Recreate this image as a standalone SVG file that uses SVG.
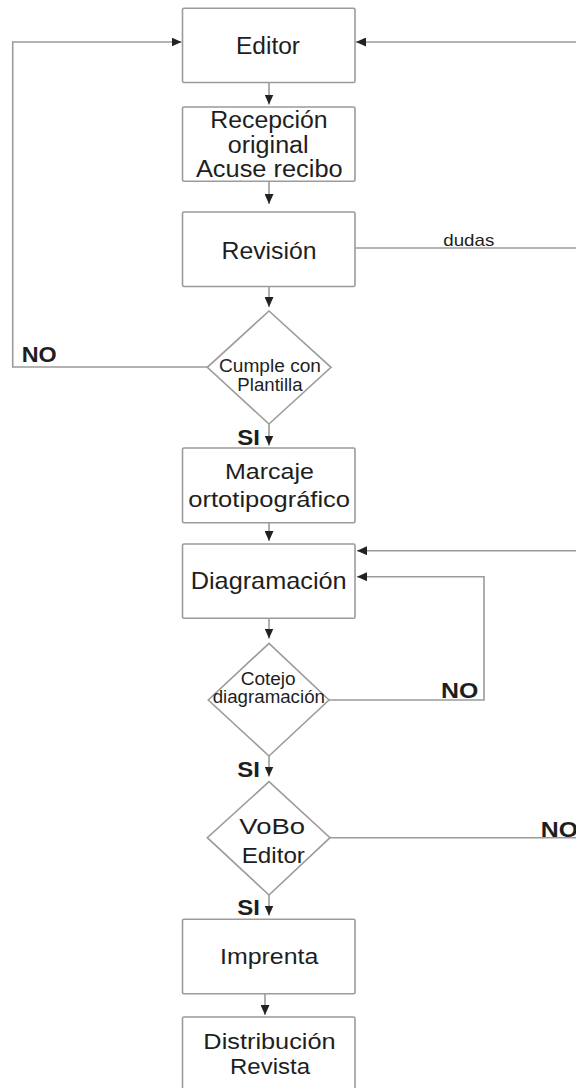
<svg xmlns="http://www.w3.org/2000/svg" width="576" height="1088" viewBox="0 0 576 1088">
<style>
  .box { fill: #ffffff; stroke: #9b9b9b; stroke-width: 1.6; }
  .dia { fill: #ffffff; stroke: #9b9b9b; stroke-width: 1.6; }
  .ln { fill: none; stroke: #9b9b9b; stroke-width: 1.6; }
  .arr { marker-end: url(#ah); }
  text { font-family: "Liberation Sans", Arial, sans-serif; fill: #1e1e1e; }
  .c { text-anchor: middle; }
  .b { font-weight: bold; }
</style>
<defs>
  <marker id="ah" markerUnits="userSpaceOnUse" markerWidth="10" markerHeight="9" refX="10" refY="4.5" orient="auto">
    <path d="M0,0 L10,4.5 L0,9 z" fill="#222222"/>
  </marker>
</defs>
<rect width="576" height="1088" fill="#ffffff"/>

<g id="connectors">
  <line class="ln arr" x1="269" y1="83" x2="269" y2="104.5"/>
  <line class="ln arr" x1="269" y1="181.5" x2="269" y2="204"/>
  <line class="ln arr" x1="269" y1="287" x2="269" y2="307"/>
  <polyline class="ln arr" points="207.5,367 12.7,367 12.7,42 181.5,42"/>
  <line class="ln arr" x1="269" y1="424" x2="269" y2="445.5"/>
  <line class="ln arr" x1="269" y1="523" x2="269" y2="541"/>
  <line class="ln arr" x1="577" y1="550.7" x2="357" y2="550.7"/>
  <line class="ln arr" x1="269" y1="618.5" x2="269" y2="638.5"/>
  <polyline class="ln arr" points="329,700 484,700 484,576.7 357,576.7"/>
  <line class="ln arr" x1="269" y1="756" x2="269" y2="776.5"/>
  <line class="ln" x1="330" y1="837.7" x2="577" y2="837.7"/>
  <line class="ln arr" x1="269" y1="895" x2="269" y2="915.5"/>
  <line class="ln arr" x1="265" y1="994" x2="265" y2="1015"/>
  <line class="ln" x1="355" y1="248" x2="577" y2="248"/>
  <line class="ln arr" x1="577" y1="42" x2="356" y2="42"/>
  <text x="443.3" y="245.7" font-size="17" textLength="51" lengthAdjust="spacingAndGlyphs">dudas</text>
  <text class="b" x="21.7" y="362.3" font-size="22" textLength="35" lengthAdjust="spacingAndGlyphs">NO</text>
  <text class="b" x="237.3" y="445" font-size="21.5" textLength="22.7" lengthAdjust="spacingAndGlyphs">SI</text>
  <text class="b" x="441" y="697.7" font-size="22" textLength="37.3" lengthAdjust="spacingAndGlyphs">NO</text>
  <text class="b" x="237.3" y="777.3" font-size="21.5" textLength="22.7" lengthAdjust="spacingAndGlyphs">SI</text>
  <text class="b" x="540.7" y="837.3" font-size="22" textLength="37.3" lengthAdjust="spacingAndGlyphs">NO</text>
  <text class="b" x="237.3" y="915" font-size="21.5" textLength="22.7" lengthAdjust="spacingAndGlyphs">SI</text>
</g>

<g id="editor">
  <rect class="box" x="182.5" y="8.3" width="172.5" height="74.2" rx="1.5"/>
  <text class="c" x="268" y="54" font-size="23.5" textLength="64" lengthAdjust="spacingAndGlyphs">Editor</text>
</g>
<g id="recepcion">
  <rect class="box" x="182.5" y="107" width="172.5" height="74.3" rx="1.5"/>
  <text class="c" x="269" y="128" font-size="23.5" textLength="117.3" lengthAdjust="spacingAndGlyphs">Recepción</text>
  <text class="c" x="268.2" y="153" font-size="23.5" textLength="81" lengthAdjust="spacingAndGlyphs">original</text>
  <text class="c" x="269.3" y="176.5" font-size="23.5" textLength="146.7" lengthAdjust="spacingAndGlyphs">Acuse recibo</text>
</g>
<g id="revision">
  <rect class="box" x="182.5" y="212" width="172.5" height="74.5" rx="1.5"/>
  <text class="c" x="269" y="258.5" font-size="24" textLength="95" lengthAdjust="spacingAndGlyphs">Revisión</text>
</g>
<g id="cumple">
  <polygon class="dia" points="269,311 331,367.3 269,424 207.3,367.3"/>
  <text class="c" x="270" y="371.7" font-size="17.5" textLength="102" lengthAdjust="spacingAndGlyphs">Cumple con</text>
  <text class="c" x="270" y="391" font-size="17.5" textLength="65.3" lengthAdjust="spacingAndGlyphs">Plantilla</text>
</g>
<g id="marcaje">
  <rect class="box" x="182.5" y="448" width="172.5" height="74.7" rx="1.5"/>
  <text class="c" x="269.5" y="479.3" font-size="21.5" textLength="89" lengthAdjust="spacingAndGlyphs">Marcaje</text>
  <text class="c" x="269.2" y="506.7" font-size="21.5" textLength="161.7" lengthAdjust="spacingAndGlyphs">ortotipográfico</text>
</g>
<g id="diagramacion">
  <rect class="box" x="182.5" y="544" width="172.5" height="74.3" rx="1.5"/>
  <text class="c" x="268.7" y="589" font-size="24" textLength="156" lengthAdjust="spacingAndGlyphs">Diagramación</text>
</g>
<g id="cotejo">
  <polygon class="dia" points="269,643.3 329,700 269,756 208.3,700"/>
  <text class="c" x="268.2" y="685" font-size="17.5" textLength="55" lengthAdjust="spacingAndGlyphs">Cotejo</text>
  <text class="c" x="268.8" y="703.3" font-size="17.5" textLength="112.3" lengthAdjust="spacingAndGlyphs">diagramación</text>
</g>
<g id="vobo">
  <polygon class="dia" points="269,781.7 330,837.7 269,895 207.3,837.7"/>
  <text class="c" x="272.2" y="834.3" font-size="21.5" textLength="65.7" lengthAdjust="spacingAndGlyphs">VoBo</text>
  <text class="c" x="273.3" y="863.3" font-size="21.5" textLength="63.3" lengthAdjust="spacingAndGlyphs">Editor</text>
</g>
<g id="imprenta">
  <rect class="box" x="182.5" y="919.3" width="172.5" height="74.4" rx="1.5"/>
  <text class="c" x="269.2" y="964" font-size="22.5" textLength="98.3" lengthAdjust="spacingAndGlyphs">Imprenta</text>
</g>
<g id="distribucion">
  <rect class="box" x="182.5" y="1017" width="172.5" height="80" rx="1.5"/>
  <text class="c" x="269.5" y="1049.3" font-size="22" textLength="132.3" lengthAdjust="spacingAndGlyphs">Distribución</text>
  <text class="c" x="270" y="1074" font-size="22" textLength="80" lengthAdjust="spacingAndGlyphs">Revista</text>
</g>
</svg>
